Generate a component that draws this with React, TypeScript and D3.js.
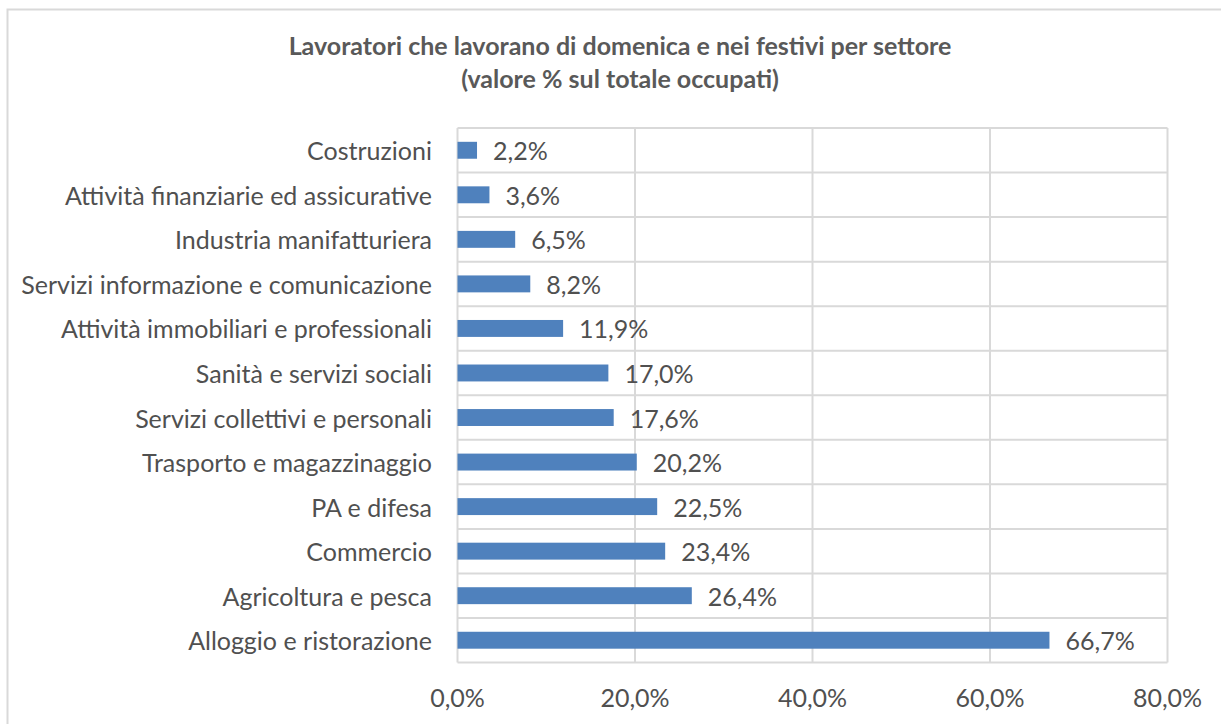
import React from "react";
import * as d3 from "d3";

const categories = [
  "Costruzioni",
  "Attività finanziarie ed assicurative",
  "Industria manifatturiera",
  "Servizi informazione e comunicazione",
  "Attività immobiliari e professionali",
  "Sanità e servizi sociali",
  "Servizi collettivi e personali",
  "Trasporto e magazzinaggio",
  "PA e difesa",
  "Commercio",
  "Agricoltura e pesca",
  "Alloggio e ristorazione",
];
const values = [2.2, 3.6, 6.5, 8.2, 11.9, 17.0, 17.6, 20.2, 22.5, 23.4, 26.4, 66.7];
const ticks = [0, 20, 40, 60, 80];
const titleLines = [
  "Lavoratori che lavorano di domenica e nei festivi per settore",
  "(valore % sul totale occupati)",
];

const W = 1221;
const H = 724;
const FONT = "Lato, 'Open Sans', sans-serif";
const TEXT = "#505050";
const GRID = "#d9d9d9";
const BAR = "#4f81bd";

const fmt = (v: number) => v.toFixed(1).replace(".", ",") + "%";

export default function App() {
  const x = d3.scaleLinear().domain([0, 80]).range([457.5, 1167.5]);
  const y = d3.scaleBand<string>().domain(categories).range([128, 662.5]).paddingInner(0.62).paddingOuter(0.31);
  const bands = categories.map((_, i) => 128 + (i * (662.5 - 128)) / categories.length);
  bands.push(662.5);
  return (
    <svg width={W} height={H} style={{ position: "absolute", left: 0, top: 0, background: "#fff" }}>
      <rect x={7.5} y={9.5} width={1400} height={900} fill="#fff" stroke={GRID} strokeWidth={2} />
      <g fontFamily={FONT} fontWeight="bold" fontSize={25} fill="#595959" textAnchor="middle">
        {titleLines.map((t, i) => (
          <text key={i} x={620} y={55 + i * 33}>
            {t}
          </text>
        ))}
      </g>
      <g stroke={GRID} strokeWidth={2}>
        {bands.map((b, i) => (
          <line key={"h" + i} x1={x(0)} x2={x(80)} y1={b} y2={b} />
        ))}
        {ticks.map((t) => (
          <line key={"v" + t} x1={x(t)} x2={x(t)} y1={128} y2={662.5} />
        ))}
      </g>
      <g>
        {values.map((v, i) => (
          <rect key={i} x={x(0)} y={y(categories[i])!} width={x(v) - x(0)} height={y.bandwidth()} fill={BAR} />
        ))}
      </g>
      <g fontFamily={FONT} fontSize={25} fill={TEXT}>
        {values.map((v, i) => (
          <text key={i} x={x(v) + 16} y={y(categories[i])! + y.bandwidth() / 2} dominantBaseline="central">
            {fmt(v)}
          </text>
        ))}
        {categories.map((c) => (
          <text key={c} x={432} y={y(c)! + y.bandwidth() / 2} dominantBaseline="central" textAnchor="end">
            {c}
          </text>
        ))}
        {ticks.map((t) => (
          <text key={t} x={x(t)} y={697} dominantBaseline="central" textAnchor="middle">
            {fmt(t)}
          </text>
        ))}
      </g>
    </svg>
  );
}
